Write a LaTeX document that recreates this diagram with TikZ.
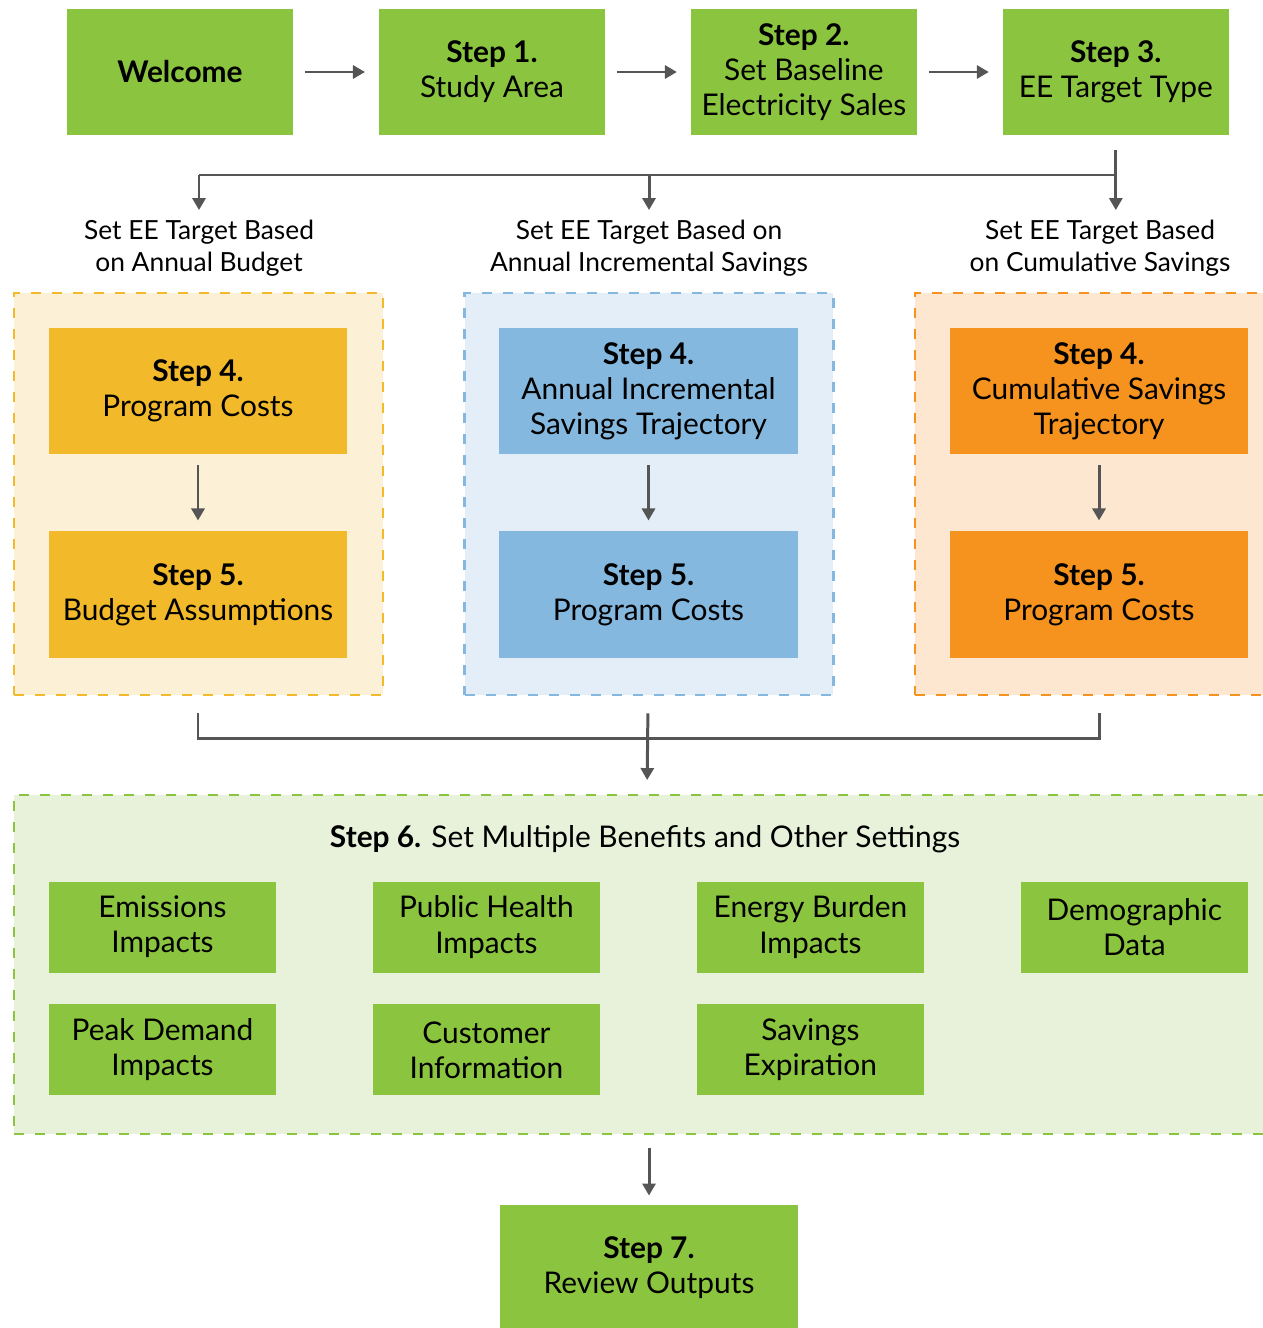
\documentclass[tikz,border=0pt]{standalone}
\usepackage{fontspec}
\setmainfont{Lato}
\usepackage{xcolor}
\usepackage{tikz}
\usetikzlibrary{arrows.meta}
\usetikzlibrary{calc}
\usetikzlibrary{positioning}

\definecolor{stepgreen}{HTML}{8BC540}
\definecolor{palegreen}{HTML}{E8F1D9}
\definecolor{stepyellow}{HTML}{F2BA2A}
\definecolor{paleyellow}{HTML}{FCF0D6}
\definecolor{stepblue}{HTML}{85B8DF}
\definecolor{paleblue}{HTML}{E4EEF8}
\definecolor{steporange}{HTML}{F6931F}
\definecolor{paleorange}{HTML}{FDE7D1}
\definecolor{arrowgray}{HTML}{555555}

\begin{document}
\begin{tikzpicture}[x=0.02cm,y=-0.02cm,-,node distance=1.72cm,line width=1.7pt]
	\tikzstyle{every node}=[font=\fontsize{17}{20}\selectfont, text=black, align=center, inner sep=0pt, outer sep=0pt]
	\tikzstyle{topbox}=[fill=stepgreen, minimum width=4.52cm, minimum height=2.54cm]
	\tikzstyle{wayfour}=[minimum width=5.98cm, minimum height=2.54cm]
	\tikzstyle{subbox}=[fill=stepgreen, minimum width=4.54cm, minimum height=1.82cm]
	\tikzstyle{grp}=[line width=1.2pt, dash pattern=on 0.2cm off 0.22cm, minimum width=7.38cm, minimum height=8.04cm]
	\tikzstyle{lbl}=[font=\fontsize{15}{18}\selectfont]
	\tikzstyle{arr}=[-{Triangle[length=0.24cm,width=0.26cm]}, draw=arrowgray, fill=arrowgray]
	\tikzstyle{link}=[draw=arrowgray]
	\useasboundingbox (0,0) rectangle (1263,1328);

	% top row
	\node[topbox] (W) at (180,72) {\textbf{Welcome}};
	\node[topbox] (S1) [right=of W] {\textbf{Step 1.}\\Study Area};
	\node[topbox] (S2) [right=of S1] {\textbf{Step 2.}\\Set Baseline\\Electricity Sales};
	\node[topbox] (S3) [right=of S2] {\textbf{Step 3.}\\EE Target Type};
	\foreach \i/\j in {W/S1,S1/S2,S2/S3}{
		\draw[arr, shorten <=0.24cm, shorten >=0.28cm] (\i) -- (\j);
	}

	% three ways to set the target
	\node[lbl] (lA) at (199,248) {Set EE Target Based\\on Annual Budget};
	\node[lbl] (lB) at (649,248) {Set EE Target Based on\\Annual Incremental Savings};
	\node[lbl] (lC) at (1100,248) {Set EE Target Based\\on Cumulative Savings};
	\coordinate (brA) at (199,175);
	\coordinate (brB) at (649,175);
	\draw[link, shorten <=0.3cm] (S3.south) -- (S3.south |- brA) -- (brA);
	\draw[arr, shorten <=0.3cm, shorten >=0.2cm] (S3.south) -- (S3.south |- lC.north);
	\draw[arr, shorten >=0.2cm] (brA) -- (lA.north);
	\draw[arr, shorten >=0.2cm] (brB) -- (lB.north);

	\node[grp, draw=stepyellow, fill=paleyellow] (GA) at (198.5,494) {};
	\node[grp, draw=stepblue, fill=paleblue] (GB) at (649,494) {};
	\node[grp, draw=steporange, fill=paleorange] (GC) at (1099.5,494) {};

	\node[wayfour, fill=stepyellow] (A4) at (198,391) {\textbf{Step 4.}\\Program Costs};
	\node[wayfour, fill=stepyellow] (A5) [below=1.54cm of A4] {\textbf{Step 5.}\\Budget Assumptions};
	\node[wayfour, fill=stepblue] (B4) at (648.5,391) {\textbf{Step 4.}\\Annual Incremental\\Savings Trajectory};
	\node[wayfour, fill=stepblue] (B5) [below=1.54cm of B4] {\textbf{Step 5.}\\Program Costs};
	\node[wayfour, fill=steporange] (C4) at (1099,391) {\textbf{Step 4.}\\Cumulative Savings\\Trajectory};
	\node[wayfour, fill=steporange] (C5) [below=1.54cm of C4] {\textbf{Step 5.}\\Program Costs};
	\foreach \i in {A,B,C}{
		\draw[arr, shorten <=0.22cm, shorten >=0.22cm] (\i4) -- (\i5);
	}

	% merge into step 6
	\coordinate (mrg) at (649,738);
	\draw[link, shorten <=1.1cm, shorten >=1.1cm] (A5.south) |- (mrg) -| (C5.south);

	\node[draw=stepgreen, fill=palegreen, line width=1.2pt, dash pattern=on 0.2cm off 0.22cm,
		minimum width=25.32cm, minimum height=6.78cm] (S6) at (647,964.5) {};
	\draw[arr, shorten <=1.1cm, shorten >=0.3cm] (B5.south) -- (S6.north);
	\node (S6t) at (645,839) {\textbf{Step 6.} Set Multiple Benefits and Other Settings};

	\node[subbox] (E1) at (162.5,927) {Emissions\\Impacts};
	\node[subbox] (E2) [right=1.94cm of E1] {Public Health\\Impacts};
	\node[subbox] (E3) [right=1.94cm of E2] {Energy Burden\\Impacts};
	\node[subbox] (E4) [right=1.94cm of E3] {Demographic\\Data};
	\node[subbox] (F1) [below=0.64cm of E1] {Peak Demand\\Impacts};
	\node[subbox] (F2) [below=0.64cm of E2] {Customer\\Information};
	\node[subbox] (F3) [below=0.64cm of E3] {Savings\\Expiration};

	\node[topbox, minimum width=5.98cm] (S7) at (649,1268) {\textbf{Step 7.}\\Review Outputs};
	\draw[arr, shorten <=0.28cm, shorten >=0.18cm] (S6.south -| S7.north) -- (S7.north);
\end{tikzpicture}
\end{document}
